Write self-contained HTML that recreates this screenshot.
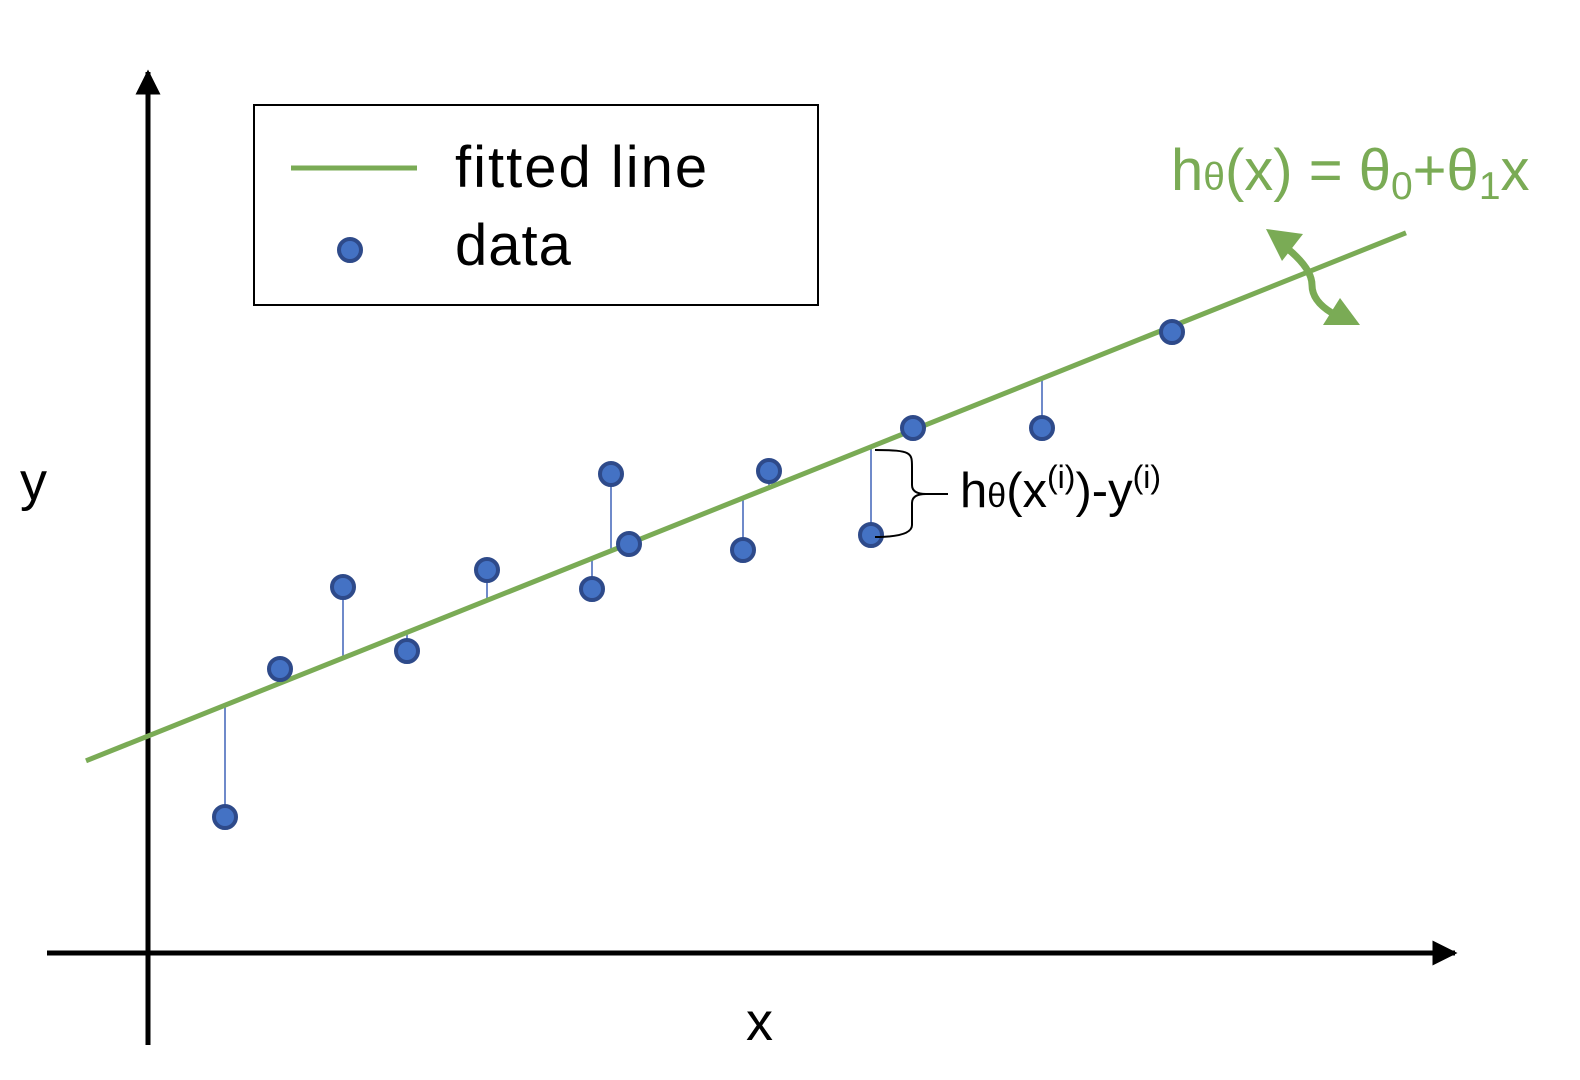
<!DOCTYPE html>
<html><head><meta charset="utf-8"><style>
html,body{margin:0;padding:0;background:#fff;}
svg{display:block;font-family:"Liberation Sans",sans-serif;}
</style></head><body>
<svg id="chart" width="1580" height="1080" viewBox="0 0 1580 1080" xmlns="http://www.w3.org/2000/svg">
<defs>
<marker id="ah" viewBox="0 0 10 10" refX="9" refY="5" markerWidth="5" markerHeight="5" orient="auto"><path d="M0,0L10,5L0,10z" fill="#000"/></marker>
</defs>
<g id="residuals"></g>
<line x1="148" y1="1045" x2="148" y2="72" stroke="#000" stroke-width="5" marker-end="url(#ah)"/>
<line x1="47" y1="953" x2="1455" y2="953" stroke="#000" stroke-width="5" marker-end="url(#ah)"/>
<line id="fit" stroke="#7aab55" stroke-width="5"/>
<g id="points"></g>
<text x="20" y="500" font-size="54">y</text>
<text x="746" y="1040" font-size="54">x</text>
<g>
<rect x="254" y="105" width="564" height="200" fill="#fff" stroke="#000" stroke-width="2"/>
<line x1="291" y1="168" x2="417" y2="168" stroke="#7aab55" stroke-width="5"/>
<text x="455" y="187" font-size="58" letter-spacing="2">fitted line</text>
<circle cx="350" cy="250" r="11" fill="#4472c4" stroke="#2e4a8a" stroke-width="4"/>
<text x="455" y="265" font-size="58" letter-spacing="1">data</text>
</g>
<text x="1171" y="190" font-size="58" fill="#7aab55">h<tspan font-size="39">θ</tspan>(x) = θ<tspan font-size="39" dy="9">0</tspan><tspan dy="-9">+θ</tspan><tspan font-size="39" dy="9">1</tspan><tspan dy="-9">x</tspan></text>
<g fill="#7aab55" stroke="#7aab55">
<path d="M1288,249 Q1312,269 1312,285 Q1312,301 1332,313" fill="none" stroke-width="7"/>
<path d="M1266,229 L1303,234 L1282,261 z" stroke="none"/>
<path d="M1360,325 L1323,325 L1340,298 z" stroke="none"/>
</g>
<g>
<path d="M875,450 C912,450 912,453 912,467 L912,485 Q912,494 926,494 L948,494 L926,494 Q912,494 912,503 L912,525 Q912,537 875,537" fill="none" stroke="#000" stroke-width="2"/>
<text x="960" y="507" font-size="49">h<tspan font-size="34">θ</tspan>(x<tspan font-size="32" dy="-19">(i)</tspan><tspan dy="19">)-y</tspan><tspan font-size="32" dy="-19">(i)</tspan></text>
</g>
</svg>
<script>
const xValues = [77, 132, 195, 259, 339, 444, 463, 481, 595, 621, 723, 765, 894, 1024];
const yValues = [141, 289, 371, 307, 388, 369, 484, 414, 408, 487, 423, 530, 530, 626];
const fitIntercept = 222;
const fitSlope = 0.4;
const fitRange = [-62, 1258];
const X0 = 148, Y0 = 958;
const sx = v => X0 + v;
const sy = v => Y0 - v;
const fit = v => fitIntercept + fitSlope * v;
const NS = "http://www.w3.org/2000/svg";
const fl = document.getElementById('fit');
fl.setAttribute('x1', sx(fitRange[0])); fl.setAttribute('y1', sy(fit(fitRange[0])));
fl.setAttribute('x2', sx(fitRange[1])); fl.setAttribute('y2', sy(fit(fitRange[1])));
const rg = document.getElementById('residuals'), pg = document.getElementById('points');
xValues.forEach((x, i) => {
  const l = document.createElementNS(NS, 'line');
  
  
  l.setAttribute('x1', sx(x)); l.setAttribute('x2', sx(x));
  l.setAttribute('y1', sy(yValues[i])); l.setAttribute('y2', sy(fit(x)));
  l.setAttribute('stroke', '#3f63b8'); l.setAttribute('stroke-width', '1.5');
  rg.appendChild(l);
  const c = document.createElementNS(NS, 'circle');
  
  
  c.setAttribute('cx', sx(x)); c.setAttribute('cy', sy(yValues[i])); c.setAttribute('r', '11');
  c.setAttribute('fill', '#4472c4'); c.setAttribute('stroke', '#2e4a8a'); c.setAttribute('stroke-width', '4');
  pg.appendChild(c);
});
</script>
</body></html>
